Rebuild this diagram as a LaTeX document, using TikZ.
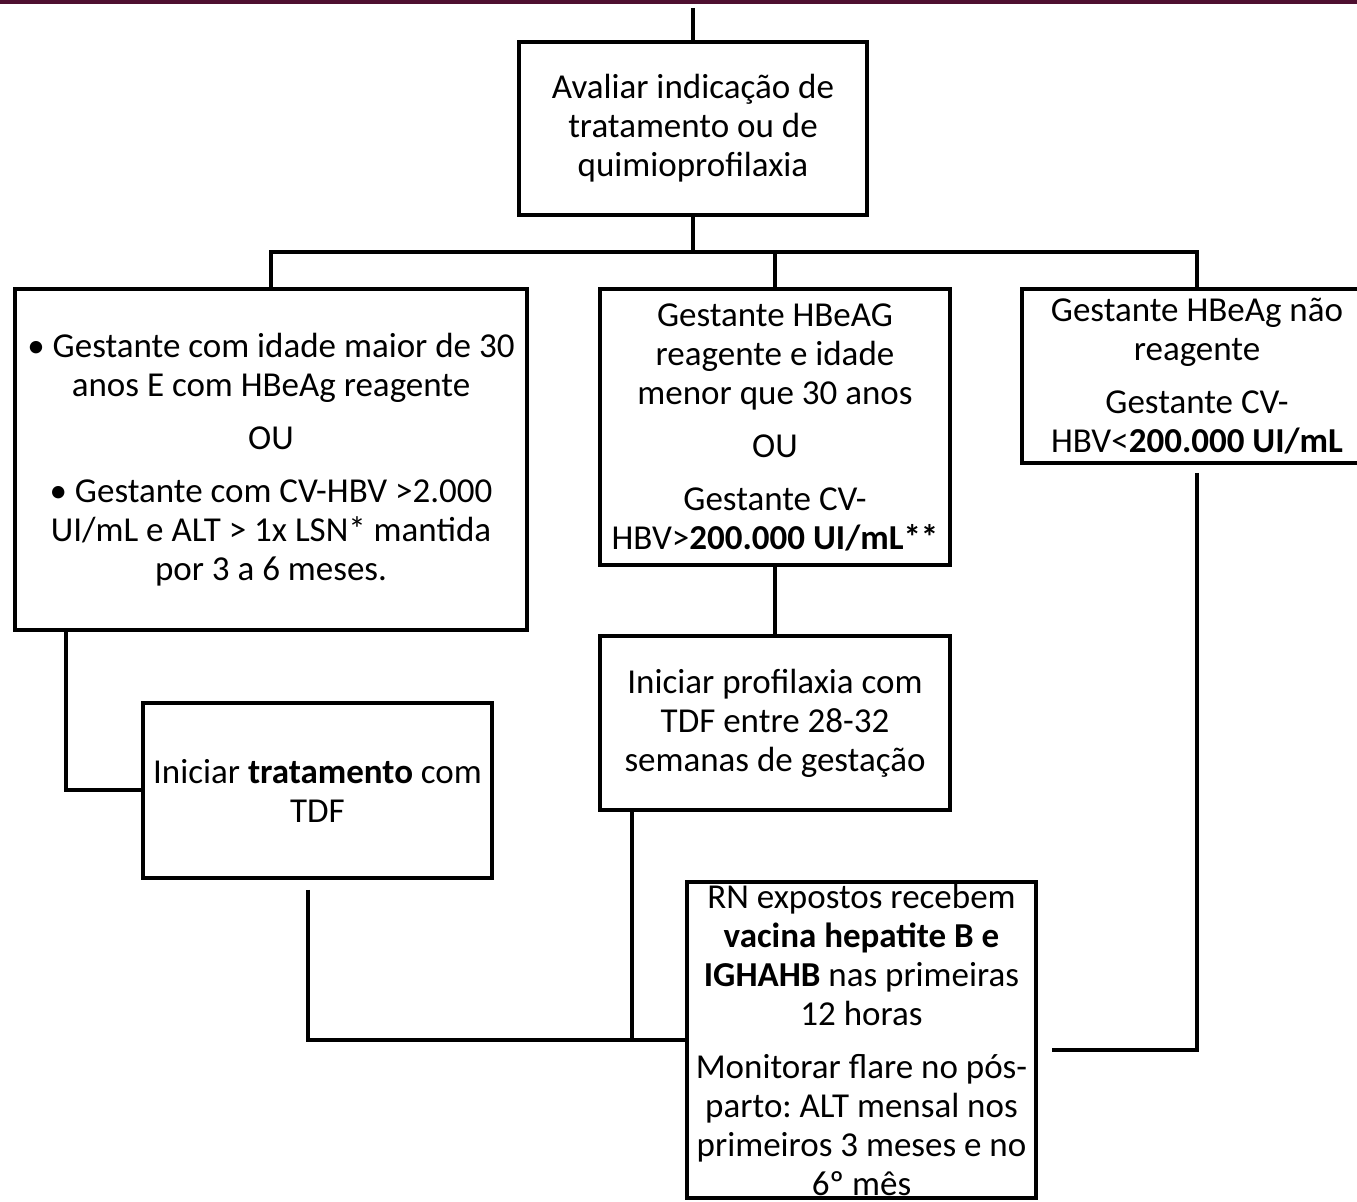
\documentclass[tikz,border=0pt]{standalone}
\usepackage{fontspec}
\setmainfont{Carlito}
\definecolor{band}{RGB}{78,16,48}
\frenchspacing
\begin{document}
\begin{tikzpicture}[x=0.5pt,y=-0.5pt,
  box/.style={draw, line width=2pt, align=center, inner sep=0pt,
    font=\fontsize{17.5}{19.5}\selectfont},
  conn/.style={line width=2pt}]
\useasboundingbox (0,0) rectangle (1357,1202);
\fill[band] (0,0) rectangle (1357,4);
% nodes
\node[box, minimum width=174pt, minimum height=86.5pt] (A) at (693,128.5)
  {Avaliar indicação de\\ tratamento ou de\\ quimioprofilaxia};
\node[box, minimum width=256pt, minimum height=170.5pt] (L) at (271,459.5)
  {• Gestante com idade maior de 30\\ anos E com HBeAg reagente\\[7pt] OU\\[7pt]
   • Gestante com CV-HBV >2.000\\ UI/mL e ALT > 1x LSN* mantida\\ por 3 a 6 meses.};
\node[box, minimum width=175pt, minimum height=138pt] (M) at (775,427)
  {Gestante HBeAG\\ reagente e idade\\ menor que 30 anos\\[7pt] OU\\[7pt]
   Gestante CV-\\ HBV>\textbf{200.000 UI/mL**}};
\node[box, minimum width=175pt, minimum height=87pt] (R) at (1197,376)
  {Gestante HBeAg não\\ reagente\\[7pt] Gestante CV-\\ HBV<\textbf{200.000 UI/mL}};
\node[box, minimum width=174.5pt, minimum height=87.5pt] (T) at (317.5,790.5)
  {Iniciar \textbf{tratamento} com\\ TDF};
\node[box, minimum width=175pt, minimum height=87pt] (P) at (775,723)
  {Iniciar profilaxia com\\ TDF entre 28-32\\ semanas de gestação};
\node[box, minimum width=174.5pt, minimum height=158pt] (RN) at (861.5,1040)
  {RN expostos recebem\\ \textbf{vacina hepatite B e}\\ \textbf{IGHAHB} nas primeiras\\ 12 horas\\[7pt]
   Monitorar flare no pós-\\ parto: ALT mensal nos\\ primeiros 3 meses e no\\ 6º mês};
% junctions
\coordinate (top) at (693,8);
\coordinate (j) at (693,252);
\coordinate (jl) at (271,252);
\coordinate (jr) at (1197,252);
\coordinate (rend) at (1052,1050);
% connectors
\draw[conn] (top) -- (A.north);
\draw[conn] (A.south) -- (j);
\draw[conn] (L.north) -- (jl) -- (jr) -- (R.north);
\draw[conn] (M.north) -- (M.north |- jl);
\draw[conn] ([xshift=26.5pt]L.south west) |- (T.west);
\draw[conn] (M.south) -- (P.north);
\draw[conn] ([xshift=-5pt,yshift=-5pt]T.south) |- (RN.west);
\draw[conn] ([xshift=17pt]P.south west) |- (RN.west);
\draw[conn] ([yshift=-4pt]R.south) |- (rend);
\end{tikzpicture}
\end{document}
